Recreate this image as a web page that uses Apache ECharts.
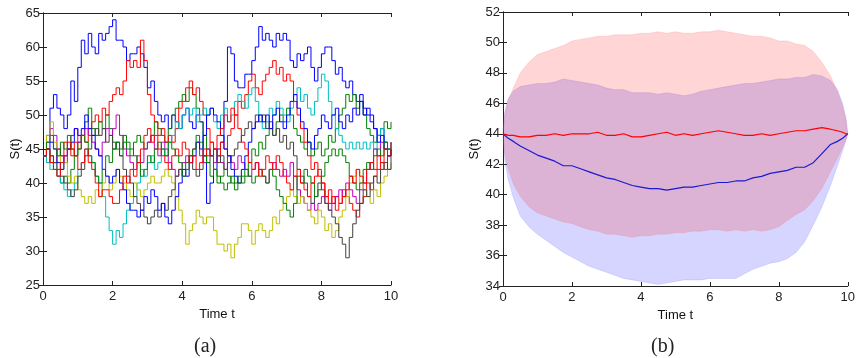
<!DOCTYPE html>
<html>
<head>
<meta charset="utf-8">
<script src="https://cdn.jsdelivr.net/npm/echarts@6/dist/echarts.min.js"></script>
<style>
  html, body { margin: 0; padding: 0; background: #fff; }
  #chart { width: 858px; height: 358px; }
</style>
</head>
<body>
<div id="chart"></div>
<script>
// ---- panel (a): sample paths, t = 0, 0.1, ..., 10 ----
var timeA = [0,0.1,0.2,0.3,0.4,0.5,0.6,0.7,0.8,0.9,1,1.1,1.2,1.3,1.4,1.5,1.6,1.7,1.8,1.9,2,2.1,2.2,2.3,2.4,2.5,2.6,2.7,2.8,2.9,3,3.1,3.2,3.3,3.4,3.5,3.6,3.7,3.8,3.9,4,4.1,4.2,4.3,4.4,4.5,4.6,4.7,4.8,4.9,5,5.1,5.2,5.3,5.4,5.5,5.6,5.7,5.8,5.9,6,6.1,6.2,6.3,6.4,6.5,6.6,6.7,6.8,6.9,7,7.1,7.2,7.3,7.4,7.5,7.6,7.7,7.8,7.9,8,8.1,8.2,8.3,8.4,8.5,8.6,8.7,8.8,8.9,9,9.1,9.2,9.3,9.4,9.5,9.6,9.7,9.8,9.9,10];

var blue1 = [44,47,51,53,51,50,48,50,55,52, 57,61,59,62,60,59,62,61,62,63, 64,61,61,60,58,59,59,60,59,57, 54,55,52,50,49,50,48,50,49,48, 50,51,49,48,50,49,44,37,40,42, 45,46,52,60,59,55,54,54,56,56, 58,60,63,61,62,61,60,62,61,62, 61,58,57,59,58,59,60,57,55,57, 59,60,60,58,56,57,55,54,55,53, 52,53,51,50,49,48,47,48,46,45, 46];
var green1 = [44,45,43,42,41,40,41,40,42,44, 46,47,49,51,48,47,49,48,50,48, 46,45,44,46,45,44,46,47,46,45, 46,47,49,48,47,46,48,50,51,52, 53,52,54,53,51,49,47,45,44,42, 41,40,39,40,41,40,41,40,41,43, 45,44,46,45,47,48,47,49,50,49, 51,50,48,47,46,45,46,44,45,46, 44,45,47,46,48,50,51,53,52,53, 51,52,50,48,47,46,47,48,49,48, 49];
var red1 = [44,43,44,43,45,44,46,45,44,46, 45,47,46,48,49,50,49,51,50,52, 53,54,53,55,58,57,58,57,61,58, 53,50,49,47,48,46,47,46,48,51, 52,54,55,53,54,52,50,48,46,45, 44,46,45,47,48,50,52,51,53,55, 56,54,53,55,56,57,58,56,57,55, 56,55,52,50,48,46,44,42,43,41, 40,38,39,37,38,37,39,38,37,36, 35,37,38,40,39,41,42,43,42,44, 45];
var cyan1 = [44,43,42,43,41,40,39,38,39,40, 42,43,45,44,43,41,40,38,35,33, 31,33,32,34,36,37,38,40,42,41, 43,44,42,43,45,44,46,47,49,48, 50,51,50,51,49,50,51,50,51,49, 48,50,51,49,50,52,53,52,51,53, 54,52,50,48,49,51,50,52,51,50, 49,51,53,54,52,53,51,50,52,54, 56,55,52,50,48,47,46,45,46,45, 46,45,46,45,46,45,47,48,46,45, 46];
var magenta1 = [44,46,48,47,45,44,43,45,47,48, 46,47,48,47,46,45,44,46,48,47, 48,50,47,45,44,43,42,44,43,45, 46,47,45,44,46,45,43,42,41,42, 43,44,43,45,46,44,43,45,44,43, 44,43,42,44,43,42,44,43,42,41, 42,43,42,41,40,42,43,42,41,42, 41,43,41,39,38,37,36,37,36,37, 38,37,36,37,38,39,38,40,39,38, 37,39,40,42,43,45,44,46,45,44, 45];
var yellow1 = [44,47,49,46,44,42,43,41,40,41, 39,38,37,38,37,39,38,40,41,39, 40,42,41,40,39,38,40,39,38,39, 40,41,40,40,41,42,41,40,38,36, 34,31,33,34,36,35,34,35,35,33, 31,31,30,31,29,31,32,34,34,33, 31,33,34,33,32,33,35,34,36,37, 38,39,38,37,38,37,36,35,34,36, 35,33,34,32,33,35,36,38,40,41, 42,40,39,38,37,39,38,40,41,42, 43];
var black1 = [44,45,44,43,42,41,40,39,38,39, 41,42,44,45,47,48,47,48,46,47, 45,46,44,42,41,40,38,37,36,35, 34,35,36,35,37,36,38,39,41,42, 41,43,44,42,41,42,44,43,44,45, 43,44,42,43,44,45,46,47,48,49, 48,50,49,50,48,49,47,48,46,47, 45,46,44,42,41,40,38,37,38,40, 39,37,36,35,34,32,31,29,32,34, 36,37,39,38,40,41,40,42,43,42, 44];
var blue2 = [44,45,46,45,43,42,44,45,46,48, 47,48,50,48,47,45,44,42,41,40, 41,42,40,39,37,36,36,35,36,38, 37,39,38,36,37,35,34,36,38,40, 42,41,43,44,46,45,47,50,51,50, 49,47,45,44,42,41,40,42,44,46, 48,49,50,49,50,48,50,51,49,48, 50,52,53,51,49,48,46,45,47,48, 50,49,48,50,51,49,48,50,49,51, 50,52,50,51,50,48,46,47,45,44, 45];
var green2 = [44,46,47,45,44,46,45,47,45,44, 45,47,46,44,43,41,40,42,44,43, 45,46,45,47,46,45,44,43,41,42, 44,43,45,46,45,44,46,45,44,43, 41,42,44,45,47,46,44,43,41,42, 40,41,42,41,40,39,40,41,42,41, 40,41,42,41,40,42,41,39,38,37, 36,35,37,41,40,42,41,40,38,39, 41,43,44,45,44,45,44,43,41,40, 39,40,42,43,42,44,45,44,46,45, 44];
var red2 = [44,45,43,42,41,43,44,46,45,44, 42,43,45,43,42,40,38,39,39,38, 37,37,39,41,40,42,41,43,45,47, 48,46,47,45,44,43,42,44,45,44, 46,45,43,44,42,43,45,44,46,45, 47,48,50,49,51,50,48,46,45,43, 42,43,41,42,44,43,42,44,43,41, 40,39,41,42,40,39,38,40,41,42, 40,38,37,38,36,37,38,39,41,40, 42,41,40,42,43,42,44,43,45,44, 46];

// MATLAB-style colour order
var pathNames = ['b1','g1','r1','c1','m1','y1','k1','b2','g2','r2'];
var pathColors = ['#0000ff','#008000','#ff0000','#00bfbf','#bf00bf','#bfbf00','#404040','#0000ff','#008000','#ff0000'];
var pathData = [blue1, green1, red1, cyan1, magenta1, yellow1, black1, blue2, green2, red2];

// ---- panel (b): mean and band ----
var timeB = [0,0.05,0.15,0.3,0.5,0.75,1,1.25,1.5,1.75,2,2.25,2.5,2.75,3,3.25,3.5,3.75,4,4.25,4.5,4.75,5,5.25,5.5,5.75,6,6.25,6.5,6.75,7,7.25,7.5,7.75,8,8.25,8.5,8.75,9,9.25,9.5,9.7,9.85,9.95,10];
var redUpper = [44,45.3,46.2,47.0,48.0,48.7,49.2,49.4,49.6,49.8,50.1,50.2,50.3,50.4,50.4,50.5,50.5,50.5,50.6,50.6,50.7,50.6,50.7,50.6,50.6,50.7,50.7,50.8,50.7,50.6,50.5,50.4,50.4,50.3,50.1,50.1,49.9,49.8,49.4,48.7,47.8,46.8,45.8,44.9,44];
var redLower = [44,42.7,41.7,40.7,39.9,39.2,38.8,38.6,38.4,38.2,38.1,37.9,37.7,37.6,37.4,37.4,37.3,37.2,37.3,37.3,37.4,37.4,37.5,37.5,37.6,37.6,37.7,37.7,37.6,37.7,37.6,37.7,37.6,37.7,37.9,38.3,38.7,39.0,39.6,40.4,41.5,42.4,43.1,43.6,44];
var blueUpper = [44,45.4,46.3,46.8,47.1,47.2,47.3,47.3,47.4,47.6,47.5,47.4,47.3,47.2,47.0,46.9,46.9,46.7,46.7,46.7,46.6,46.7,46.6,46.5,46.6,46.8,46.9,47.0,47.1,47.2,47.3,47.3,47.4,47.5,47.6,47.6,47.7,47.7,47.9,47.8,47.5,46.9,46.0,45.0,44];
var blueLower = [44,42.3,41.0,39.8,38.6,37.9,37.4,37.0,36.6,36.2,35.9,35.6,35.3,35.1,34.9,34.7,34.5,34.4,34.3,34.2,34.1,34.2,34.3,34.4,34.4,34.4,34.5,34.5,34.5,34.5,34.8,35.1,35.3,35.5,35.6,35.8,36.2,36.9,38.0,39.2,40.6,41.9,42.9,43.6,44];
var redMean = [44,44.0,43.9,43.9,43.8,43.8,43.9,43.9,44.0,43.9,44.0,44.0,44.0,44.1,43.9,43.9,44.0,43.8,43.8,43.9,44.0,44.1,43.9,44.0,43.9,44.0,44.1,44.2,44.1,44.0,43.9,43.9,44.0,43.9,44.0,44.1,44.2,44.2,44.3,44.4,44.3,44.2,44.1,44.0,44];
var blueMean = [44,43.9,43.7,43.5,43.2,42.9,42.6,42.4,42.2,41.9,41.9,41.7,41.5,41.3,41.1,41.0,40.8,40.6,40.5,40.4,40.4,40.3,40.4,40.5,40.5,40.6,40.7,40.8,40.8,40.9,40.9,41.1,41.2,41.4,41.5,41.6,41.8,41.8,42.1,42.7,43.3,43.5,43.7,43.9,44];

var xTicksA = {min: 0, max: 10, interval: 2};
var yTicksA = {min: 25, max: 65, interval: 5};
var xTicksB = {min: 0, max: 10, interval: 2};
var yTicksB = {min: 34, max: 52, interval: 2};

function pairs(ts, vs) {
  return ts.map(function (t, i) { return [t, vs[i]]; });
}

var font = '"Liberation Sans", Arial, Helvetica, sans-serif';

function mainAxis(grid, ticks, pos, name, gap, lblMargin) {
  return {
    type: 'value', gridIndex: grid, position: pos,
    min: ticks.min, max: ticks.max, interval: ticks.interval,
    name: name, nameLocation: 'middle', nameGap: gap,
    nameTextStyle: {color: '#111', fontSize: 13, fontFamily: font},
    axisLine: {show: true, lineStyle: {color: '#222', width: 1}},
    axisTick: {show: true, inside: true, length: 4, lineStyle: {color: '#222'}},
    axisLabel: {color: '#222', fontSize: 13, fontFamily: font, margin: lblMargin},
    splitLine: {show: false}
  };
}
function boxAxis(grid, ticks, pos) {
  return {
    type: 'value', gridIndex: grid, position: pos,
    min: ticks.min, max: ticks.max, interval: ticks.interval,
    axisLine: {show: true, lineStyle: {color: '#222', width: 1}},
    axisTick: {show: true, inside: true, length: 4, lineStyle: {color: '#222'}},
    axisLabel: {show: false},
    splitLine: {show: false}
  };
}

// filled band drawn as a polygon through the axis scales
function bandSeries(upper, lower, fill, edge) {
  return {
    type: 'custom', xAxisIndex: 2, yAxisIndex: 2,
    data: [[0, upper[0]]],
    silent: true,
    renderItem: function (params, api) {
      var pts = [];
      for (var i = 0; i < timeB.length; i++) pts.push(api.coord([timeB[i], upper[i]]));
      for (var j = timeB.length - 1; j >= 0; j--) pts.push(api.coord([timeB[j], lower[j]]));
      return {
        type: 'polygon',
        shape: {points: pts},
        style: {fill: fill, stroke: edge, lineWidth: 0.6}
      };
    }
  };
}

var series = [];
pathData.forEach(function (vals, k) {
  series.push({
    name: pathNames[k], type: 'line', xAxisIndex: 0, yAxisIndex: 0,
    step: 'end', showSymbol: false, data: pairs(timeA, vals),
    lineStyle: {color: pathColors[k], width: 1}
  });
});
series.push(bandSeries(blueUpper, blueLower, 'rgba(0,0,255,0.165)', 'rgba(120,120,255,0.35)'));
series.push(bandSeries(redUpper, redLower, 'rgba(255,0,0,0.165)', 'rgba(255,120,120,0.35)'));
series.push({
  name: 'blue mean', type: 'line', xAxisIndex: 2, yAxisIndex: 2,
  showSymbol: false, data: pairs(timeB, blueMean),
  lineStyle: {color: '#1a1ad0', width: 1.2}
});
series.push({
  name: 'red mean', type: 'line', xAxisIndex: 2, yAxisIndex: 2,
  showSymbol: false, data: pairs(timeB, redMean),
  lineStyle: {color: '#ff0000', width: 1.2}
});

var chart = echarts.init(document.getElementById('chart'));
var option = {
  animation: false,
  backgroundColor: '#fff',
  grid: [
    {left: 43, top: 13, width: 348, height: 272},
    {left: 503, top: 12, width: 346, height: 274}
  ],
  xAxis: [
    mainAxis(0, xTicksA, 'bottom', 'Time t', 17, 5),
    boxAxis(0, xTicksA, 'top'),
    mainAxis(1, xTicksB, 'bottom', 'Time t', 18, 5),
    boxAxis(1, xTicksB, 'top')
  ],
  yAxis: [
    mainAxis(0, yTicksA, 'left', 'S(t)', 21, 3),
    boxAxis(0, yTicksA, 'right'),
    mainAxis(1, yTicksB, 'left', 'S(t)', 22, 3),
    boxAxis(1, yTicksB, 'right')
  ],
  graphic: [
    {type: 'text', left: 194, top: 337, style: {text: '(a)', font: '20px "Liberation Serif", "DejaVu Serif", serif', fill: '#222'}},
    {type: 'text', left: 651, top: 337, style: {text: '(b)', font: '20px "Liberation Serif", "DejaVu Serif", serif', fill: '#222'}}
  ],
  series: series
};
chart.setOption(option);
window.addEventListener('resize', function () { chart.resize(); });
</script>
</body>
</html>
